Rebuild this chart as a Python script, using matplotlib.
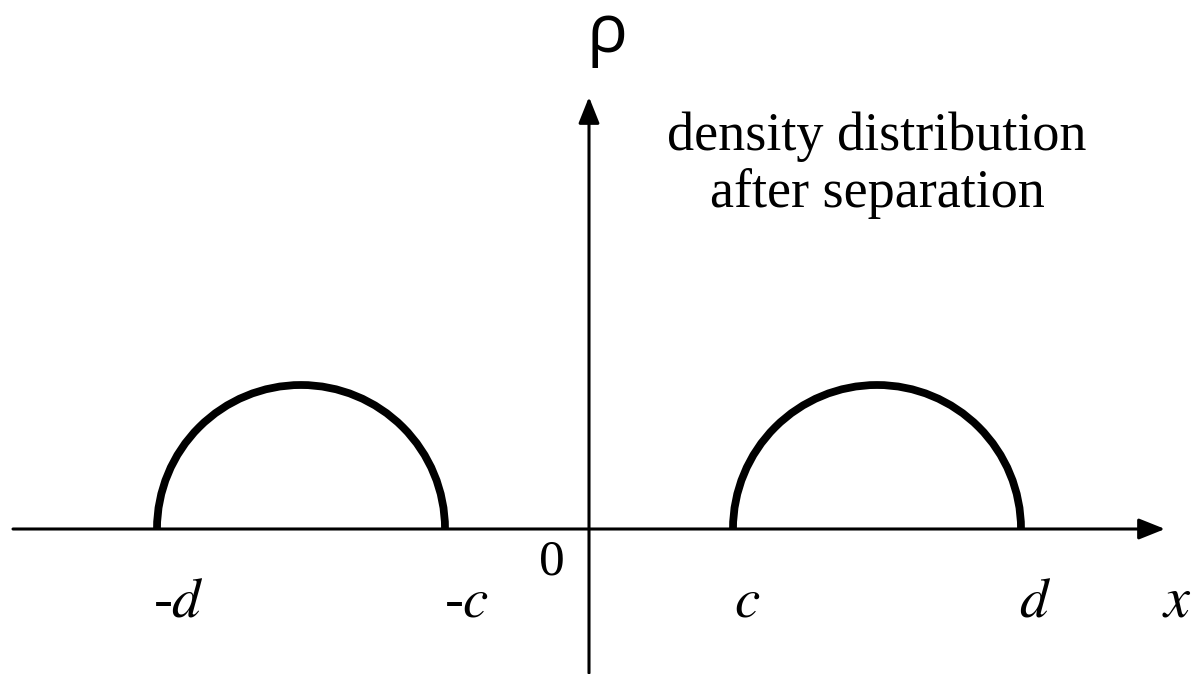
import numpy as np
import matplotlib
matplotlib.use('Agg')
import matplotlib.pyplot as plt
from matplotlib.patches import Arc

plt.rcParams['mathtext.fontset'] = 'stix'

# Inner and outer edges of each lobe (c, d), and lobe height
c = 1.0
d = 3.0
peak = 1.0
lobe_centers = [-(c + d) / 2, (c + d) / 2]

# Axis extents
x_axis = [-4.0, 4.0]
y_axis = [-1.0, 3.0]

# Labels on the x axis
tick_values = [-d, -c, c, d]
tick_labels = ['-$d$', '-$c$', '$c$', '$d$']
title_lines = ['density distribution', 'after separation']

fig = plt.figure(figsize=(12.01, 6.74), dpi=100)
ax = fig.add_axes([0, 0, 1, 1])
ax.set_xlim(-589 / 144, 612 / 144)
ax.set_ylim(-145 / 144, 529 / 144)
ax.set_axis_off()

arrow = dict(arrowstyle='-|>,head_length=0.4,head_width=0.16', mutation_scale=40,
             lw=2.2, color='black', shrinkA=0, shrinkB=0)
ax.annotate('', xy=(x_axis[1], 0), xytext=(x_axis[0], 0), arrowprops=arrow)
ax.annotate('', xy=(0, y_axis[1]), xytext=(0, y_axis[0]), arrowprops=arrow)

for xc in lobe_centers:
    ax.add_patch(Arc((xc, 0), d - c, 2 * peak, theta1=0, theta2=180,
                     lw=5.6, color='black'))

serif = 'Liberation Serif'
for v, lab in zip(tick_values, tick_labels):
    off = 0.15 if v < 0 else 0.1
    ax.text(v + off, -0.611, lab, fontsize=41, family=serif, style='italic',
            ha='center', va='baseline')
ax.text(4.08, -0.611, '$x$', fontsize=42, family=serif,
        ha='center', va='baseline')
ax.text(-0.257, -0.229, '0', fontsize=37, family=serif, ha='center', va='center')
ax.text(0.125, 3.31, 'ρ', fontsize=49, family='Open Sans', ha='center', va='baseline')

ax.text(2.0, 2.63, title_lines[0], fontsize=39, family=serif, ha='center', va='baseline')
ax.text(2.0, 2.235, title_lines[1], fontsize=39, family=serif, ha='center', va='baseline')

fig.savefig('out.png', dpi=100)
